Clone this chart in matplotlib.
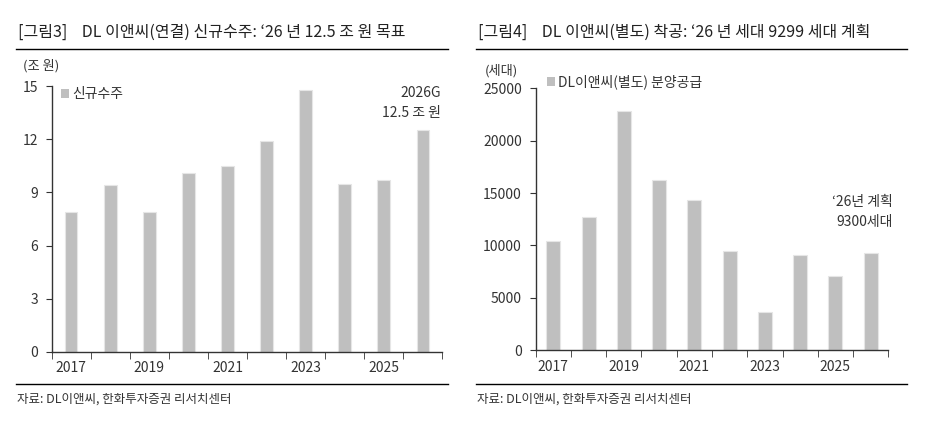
import matplotlib.pyplot as plt
from matplotlib.lines import Line2D
from matplotlib.patches import Patch

plt.rcParams['font.family'] = ['Noto Sans CJK KR', 'DejaVu Sans']

years = [2017, 2018, 2019, 2020, 2021, 2022, 2023, 2024, 2025, 2026]
year_labels = ['2017', '', '2019', '', '2021', '', '2023', '', '2025', '']
orders = [7.9, 9.4, 7.9, 10.1, 10.5, 11.9, 14.8, 9.5, 9.7, 12.5]
starts = [10400, 12700, 22800, 16200, 14300, 9500, 3600, 9100, 7100, 9300]

W, H = 935, 422
bar_color = '#bfbfbf'
text_color = '#333333'

fig = plt.figure(figsize=(W / 100, H / 100), dpi=100)


def px(x, y):
    return x / W, 1 - y / H


def panel(rect, values, yticks, width, title, unit, unit_xy, legend_label,
          legend_xy, note, note_xy, x0, x1):
    l, r, top, bot = rect
    ax = fig.add_axes([l / W, 1 - bot / H, (r - l) / W, (bot - top) / H])
    pos = list(range(len(values)))
    ax.bar(pos, values, width=width, color=bar_color, edgecolor='#e6e6e6',
           linewidth=0.8)
    ax.set_xlim(-0.5, len(values) - 0.5)
    ax.set_ylim(yticks[0], yticks[-1])
    ax.set_yticks(yticks)
    ax.set_xticks(pos)
    ax.set_xticklabels(year_labels)
    ax.set_xticks([p - 0.5 for p in pos] + [len(values) - 0.5], minor=True)
    ax.tick_params(axis='x', which='major', length=0, pad=7,
                   labelsize=10, labelcolor=text_color)
    ax.tick_params(axis='x', which='minor', length=5, color=text_color)
    ax.tick_params(axis='y', length=4, pad=6, labelsize=10,
                   labelcolor=text_color, color=text_color)
    for s in ['top', 'right']:
        ax.spines[s].set_visible(False)
    for s in ['left', 'bottom']:
        ax.spines[s].set_color(text_color)
        ax.spines[s].set_linewidth(1)

    fig.text(*px(x0 + 2, 32), title, fontsize=11.5, color='#222222',
             va='center', ha='left')
    fig.add_artist(Line2D([x0 / W, x1 / W], [1 - 49 / H, 1 - 49 / H],
                          color='black', lw=1))
    fig.add_artist(Line2D([x0 / W, x1 / W], [1 - 384 / H, 1 - 384 / H],
                          color='black', lw=1))
    fig.text(*px(x0 + 1, 399), '자료: DL이앤씨, 한화투자증권 리서치센터',
             fontsize=9, color=text_color, va='center', ha='left')
    fig.text(*px(*unit_xy), unit, fontsize=9.5, color=text_color,
             va='center', ha='center')
    fig.legend(handles=[Patch(facecolor=bar_color, edgecolor='none')],
               labels=[legend_label], loc='center left',
               bbox_to_anchor=px(*legend_xy), frameon=False, fontsize=10,
               handlelength=0.6, handleheight=0.6, handletextpad=0.2,
               borderpad=0, borderaxespad=0, labelcolor=text_color)
    nx, ny = note_xy
    for i, line in enumerate(note):
        fig.text(*px(nx, ny + i * 20), line, fontsize=10, color=text_color,
                 va='center', ha='right')
    return ax


panel((51.7, 442.3, 86.2, 351.7), orders, [0, 3, 6, 9, 12, 15], 0.32,
      '[그림3]    DL 이앤씨(연결) 신규수주: ‘26 년 12.5 조 원 목표',
      '(조 원)', (41, 66), '신규수주', (61, 94),
      ['2026G', '12.5 조 원'], (441, 93), 16, 448)

panel((535.7, 888.3, 88.4, 350), starts, [0, 5000, 10000, 15000, 20000, 25000],
      0.4,
      '[그림4]    DL 이앤씨(별도) 착공: ‘26 년 세대 9299 세대 계획',
      '(세대)', (501, 71), 'DL이앤씨(별도) 분양공급', (547, 82),
      ['‘26년 계획', '9300세대'], (893, 202), 476, 907)

fig.savefig('out.png', dpi=100)
